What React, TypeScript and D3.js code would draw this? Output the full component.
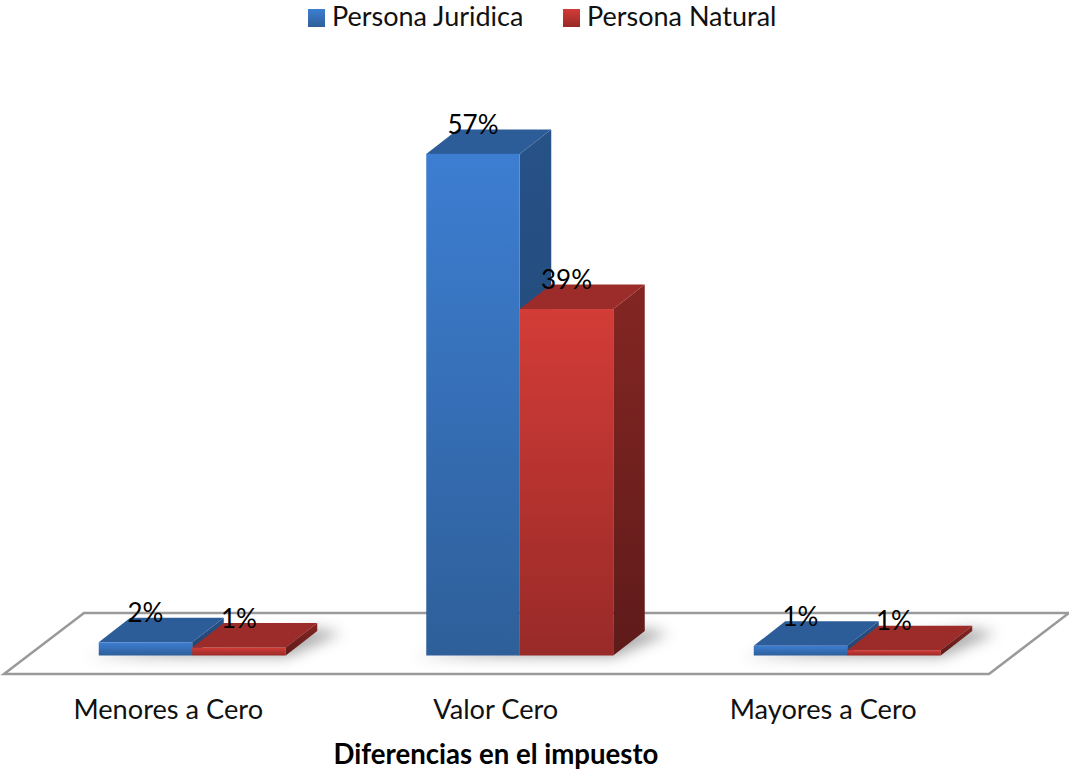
import React from "react";
import * as d3 from "d3";

const categories = ["Menores a Cero", "Valor Cero", "Mayores a Cero"];
const seriesNames = ["Persona Juridica", "Persona Natural"];
const juridica = [0.015, 0.569, 0.011];
const natural = [0.009, 0.393, 0.006];
const axisTitle = "Diferencias en el impuesto";

const FONT = "Lato, Carlito, Calibri, sans-serif";
const W = 1069, H = 770;
const base = 655.5;
const dx = 31.5, dy = -24.5;
const floorPts: [number, number][] = [[4, 674], [989, 674], [1069, 613], [84, 613]];

const palette = [
  { id: "b", f0: "#3D7ED2", f1: "#2E5F99", top: "#2C5D98", s0: "#275288", s1: "#1F4470" },
  { id: "r", f0: "#D33C37", f1: "#982A28", top: "#9C2C2A", s0: "#842623", s1: "#5E1B1A" },
];

export default function App() {
  const x0 = d3.scaleBand<string>().domain(categories).range([28.5, 1011]).paddingInner(0).paddingOuter(0);
  const x1 = d3.scaleBand<string>().domain(seriesNames).range([0, 187]);
  const offset = (x0.bandwidth() - x1.range()[1]) / 2;
  const y = d3.scaleLinear().domain([0, 0.57]).range([base, 153]);
  const pct = d3.format(".0%");
  const line = d3.line();
  const series = [juridica, natural];

  return (
    <svg width={W} height={H} viewBox={`0 0 ${W} ${H}`} style={{ position: "absolute", left: 0, top: 0, background: "#fff" }} fontFamily={FONT}>
      <defs>
        {palette.map((p) => (
          <React.Fragment key={p.id}>
            <linearGradient id={`${p.id}F`} x1="0" y1="0" x2="0" y2="1">
              <stop offset="0" stopColor={p.f0} />
              <stop offset="1" stopColor={p.f1} />
            </linearGradient>
            <linearGradient id={`${p.id}S`} x1="0" y1="0" x2="0" y2="1">
              <stop offset="0" stopColor={p.s0} />
              <stop offset="1" stopColor={p.s1} />
            </linearGradient>
          </React.Fragment>
        ))}
        <filter id="blur" x="-30%" y="-100%" width="160%" height="300%">
          <feGaussianBlur stdDeviation="7" />
        </filter>
      </defs>

      {/* legend */}
      {seriesNames.map((n, i) => {
        const sx = [308, 563][i];
        return (
          <g key={n}>
            <rect x={sx} y={9} width={17} height={18} fill={`url(#${palette[i].id}F)`} />
            <text x={sx + 24} y={26} fontSize={27} fill="#111">{n}</text>
          </g>
        );
      })}

      {/* floor */}
      <path d={line(floorPts) + "Z"} fill="#fff" stroke="#9a9a9a" strokeWidth={2.5} />

      {/* soft shadows */}
      {categories.map((c) => {
        const l = x0(c)! + offset;
        const r = l + x1.range()[1];
        const pts: [number, number][] = [[l - 12, base + 1], [r + 2, base + 1], [r + dx + 24, base + dy + 2], [r + dx, base + dy - 2]];
        return <path key={c} d={line(pts) + "Z"} fill="#555" opacity={0.5} filter="url(#blur)" />;
      })}

      {/* bars */}
      {categories.map((c, ci) => (
        <g key={c}>
          {seriesNames.map((n, si) => {
            const v = series[si][ci];
            const p = palette[si];
            const l = x0(c)! + offset + x1(n)!;
            const r = l + x1.bandwidth();
            const t = y(v);
            const top: [number, number][] = [[l, t], [r, t], [r + dx, t + dy], [l + dx, t + dy]];
            const side: [number, number][] = [[r, t], [r + dx, t + dy], [r + dx, base + dy], [r, base]];
            return (
              <g key={n}>
                <path d={line(side) + "Z"} fill={`url(#${p.id}S)`} />
                <path d={line(top) + "Z"} fill={p.top} />
                <rect x={l} y={t} width={x1.bandwidth()} height={base - t} fill={`url(#${p.id}F)`} />
              </g>
            );
          })}
        </g>
      ))}

      {/* data labels */}
      {categories.map((c, ci) =>
        seriesNames.map((n, si) => {
          const v = series[si][ci];
          const l = x0(c)! + offset + x1(n)!;
          return (
            <text key={c + n} x={l + x1.bandwidth() / 2} y={y(v) - 20} textAnchor="middle" fontSize={26} fill="#000">
              {pct(v)}
            </text>
          );
        })
      )}

      {/* category labels */}
      {categories.map((c) => (
        <text key={c} x={x0(c)! + x0.bandwidth() / 2 - 24} y={719} textAnchor="middle" fontSize={27.2} fill="#111">{c}</text>
      ))}
      <text x={496} y={764} textAnchor="middle" fontSize={27.6} fontWeight={700} fill="#000">{axisTitle}</text>
    </svg>
  );
}
